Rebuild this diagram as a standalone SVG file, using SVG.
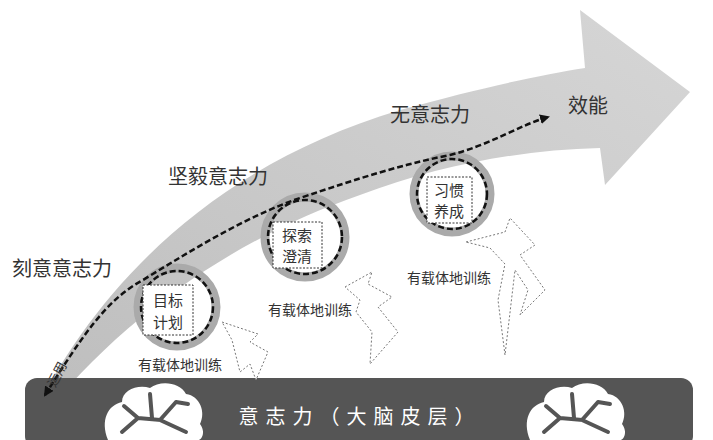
<svg xmlns="http://www.w3.org/2000/svg" width="713" height="440" viewBox="0 0 713 440">
<style>
.t{font-family:"Noto Sans CJK SC","Liberation Serif",serif;fill:#333}
.lbl{font-size:20px}
.sm{font-size:14px}
.bt{font-size:15px}
.box{fill:#fff;stroke:#333;stroke-width:1;stroke-dasharray:2 1.5}
.ring{fill:none;stroke:#aaa;stroke-width:9}
.dring{fill:none;stroke:#111;stroke-width:2.5;stroke-dasharray:6 3}
.dz{fill:#fff;stroke:#777;stroke-width:1;stroke-dasharray:2 2}
.br{fill:none;stroke:#555;stroke-width:4;stroke-linecap:round}
</style>
<defs>
<linearGradient id="g" x1="0" y1="1" x2="1" y2="0">
<stop offset="0" stop-color="#bdbdbd"/><stop offset="1" stop-color="#d6d6d6"/>
</linearGradient>
<marker id="ah" viewBox="0 0 10 10" refX="8" refY="5" markerWidth="4" markerHeight="4" orient="auto-start-reverse"><path d="M0,0L10,5L0,10z" fill="#111"/></marker>
</defs>
<rect width="713" height="440" fill="#fff"/>
<g id="bigArrow">
<path d="M33,415 C90,300 200,170 400,110 C480,88 540,75 585,68 L580,10 L690,92 L605,185 L600,148 C520,150 440,165 360,195 C230,240 120,320 40,420 Z" fill="url(#g)"/>
</g>
<g id="base">
<rect x="25" y="378" width="668" height="70" rx="12" fill="#555"/>
<text class="t" x="360" y="424" text-anchor="middle" font-size="20" style="fill:#fff;letter-spacing:7px">意志力（大脑皮层）</text>
<g id="brainL">
<path d="M108,440 C100,420 108,405 122,402 C122,390 138,384 150,388 C160,380 180,382 186,394 C200,396 206,412 200,424 C206,432 202,440 198,440 Z" fill="#fff"/>
<path class="br" d="M122,432 L138,418 L124,406 M138,418 L160,420 L176,402 M160,420 L186,432 M150,394 L152,418 M176,402 L188,404"/>
</g>
<g id="brainR">
<path d="M530,440 C522,420 530,405 544,402 C544,390 560,384 572,388 C582,380 602,382 608,394 C622,396 628,412 622,424 C628,432 624,440 620,440 Z" fill="#fff"/>
<path class="br" d="M544,432 L560,418 L546,406 M560,418 L582,420 L598,402 M582,420 L608,432 M572,394 L574,418 M598,402 L610,404"/>
</g>
</g>
<g id="rings">
<circle class="ring" cx="177" cy="307" r="39"/>
<circle class="ring" cx="305" cy="237" r="40"/>
<circle class="ring" cx="452" cy="194" r="38"/>
<circle class="dring" cx="177" cy="307" r="36"/>
<circle class="dring" cx="305" cy="237" r="37"/>
<circle class="dring" cx="452" cy="194" r="35"/>
</g>
<g id="connectors">
<path d="M45,395 C80,340 105,300 143,280 C200,245 250,215 300,198 C360,178 400,165 450,155 C490,145 520,125 548,117" fill="none" stroke="#111" stroke-width="2.5" stroke-dasharray="6 3" marker-end="url(#ah)" marker-start="url(#ah)"/>
</g>
<g id="dz">
<path class="dz" d="M222,322 L258,334 L250,342 L268,352 L256,380 L250,364 L240,372 L232,340 Z"/>
<path class="dz" d="M345,287 L372,272 L368,284 L392,297 L378,307 L398,332 L370,364 L372,332 L356,312 L360,300 Z"/>
<path class="dz" d="M466,242 L505,232 L510,218 L535,245 L520,255 L545,290 L520,315 L528,290 L515,270 L505,355 L498,300 L505,264 L490,248 Z"/>
</g>
<g id="boxes">
<rect class="box" x="143" y="285" width="50" height="50"/>
<text class="t bt" x="168" y="306" text-anchor="middle">目标</text>
<text class="t bt" x="168" y="328" text-anchor="middle">计划</text>
<rect class="box" x="273" y="222" width="49" height="46"/>
<text class="t bt" x="297" y="241" text-anchor="middle">探索</text>
<text class="t bt" x="297" y="262" text-anchor="middle">澄清</text>
<rect class="box" x="427" y="177" width="45" height="46"/>
<text class="t bt" x="449" y="196" text-anchor="middle">习惯</text>
<text class="t bt" x="449" y="217" text-anchor="middle">养成</text>
</g>
<g id="labels">
<text class="t lbl" x="12" y="276">刻意意志力</text>
<text class="t lbl" x="168" y="184">坚毅意志力</text>
<text class="t lbl" x="390" y="122">无意志力</text>
<text class="t lbl" x="568" y="113">效能</text>
<text class="t sm" x="138" y="370">有载体地训练</text>
<text class="t sm" x="268" y="315">有载体地训练</text>
<text class="t sm" x="407" y="283">有载体地训练</text>
<text class="t" x="55" y="388" font-size="13" transform="rotate(-62 55 388)">运用</text>
</g>
</svg>
